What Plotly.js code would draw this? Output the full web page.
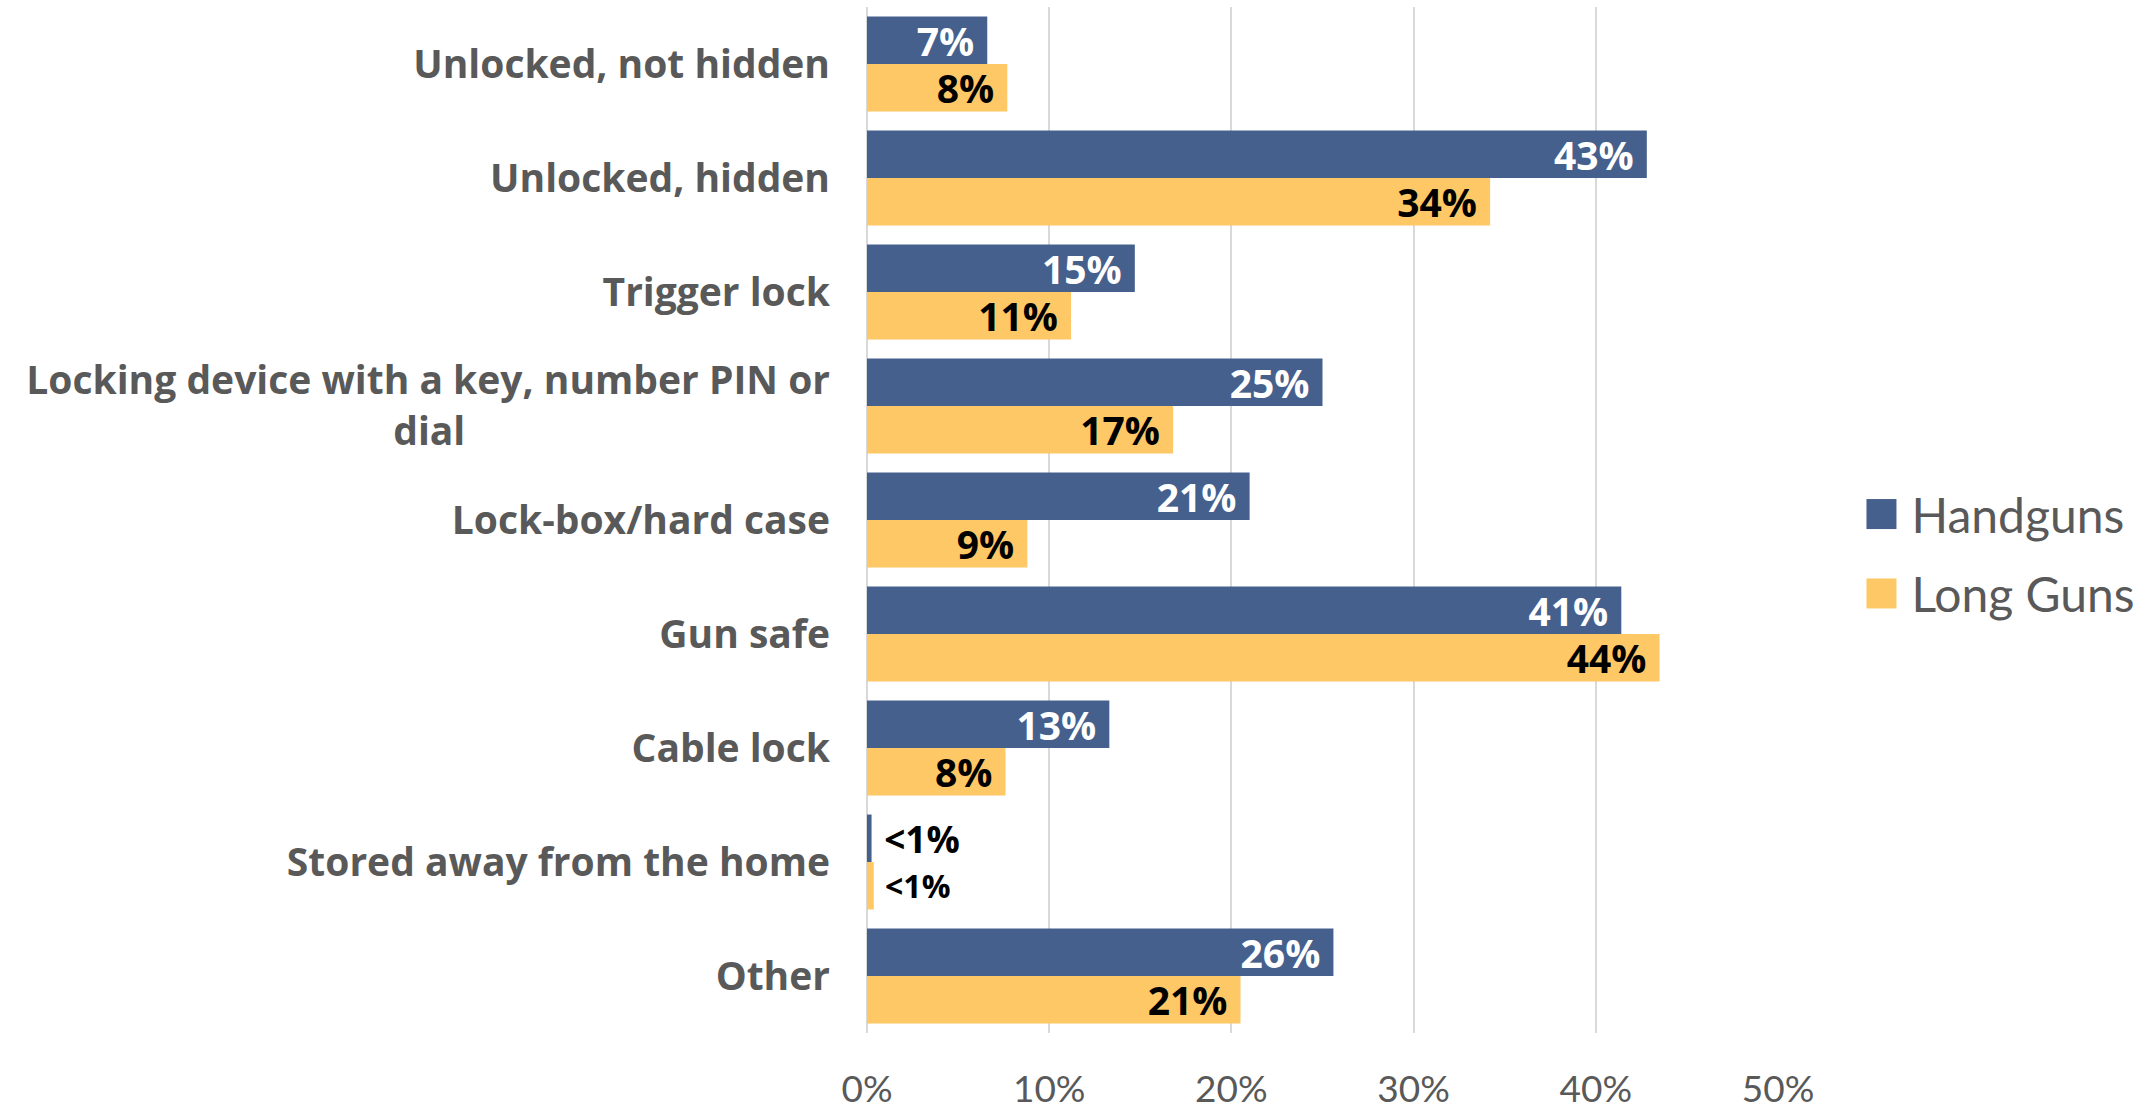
<!DOCTYPE html>
<html>
<head>
<meta charset="utf-8">
<script src="https://cdn.plot.ly/plotly-3.0.1.min.js"></script>
<style>html,body{margin:0;padding:0;background:#fff;}#chart{width:2151px;height:1110px;}</style>
</head>
<body>
<div id="chart"></div>
<script>
// Categories (top to bottom)
const categories = [
  "Unlocked, not hidden",
  "Unlocked, hidden",
  "Trigger lock",
  "Locking device with a key, number PIN or<br>dial",
  "Lock-box/hard case",
  "Gun safe",
  "Cable lock",
  "Stored away from the home",
  "Other"
];
// Series values (fractions)
const handguns = [0.066, 0.428, 0.147, 0.250, 0.210, 0.414, 0.133, 0.0025, 0.256];
const longGuns = [0.077, 0.342, 0.112, 0.168, 0.088, 0.435, 0.076, 0.0037, 0.205];
// Data labels
const handgunLabels = ["7%", "43%", "15%", "25%", "21%", "41%", "13%", "<1%", "26%"];
const longGunLabels = ["8%", "34%", "11%", "17%", "9%", "44%", "8%", "<1%", "21%"];
// Tick labels
const xTickVals = [0, 0.1, 0.2, 0.3, 0.4, 0.5];
const xTickText = ["0%", "10%", "20%", "30%", "40%", "50%"];

const BLUE = "#46608d";
const GOLD = "#fdc865";
const GREY = "#595959";
const NB = "\u00a0";

// centre the second line of the wrapped label (plotly right-aligns lines)
const catText = categories.map(c => c.indexOf("<br>") >= 0 ? c + NB.repeat(36) : c);

function isTiny(l){ return l.indexOf("<") === 0; }
function buildText(labels){ return labels.map(l => isTiny(l) ? NB + l : l + NB); }
function buildPos(labels){ return labels.map(l => isTiny(l) ? "outside" : "inside"); }

const labelFont = {family: "Open Sans", weight: 700};

const traces = [
  {
    type: "bar", orientation: "h", name: "Handguns",
    y: categories, x: handguns,
    marker: {color: BLUE},
    text: buildText(handgunLabels),
    textposition: buildPos(handgunLabels),
    insidetextanchor: "end",
    constraintext: "none",
    cliponaxis: false,
    insidetextfont: Object.assign({size: 39, color: "#ffffff"}, labelFont),
    outsidetextfont: Object.assign({size: 37, color: "#000000"}, labelFont),
    hoverinfo: "x+y",
    legendgroup: "a"
  },
  {
    type: "bar", orientation: "h", name: "Long Guns",
    y: categories, x: longGuns,
    marker: {color: GOLD},
    text: buildText(longGunLabels),
    textposition: buildPos(longGunLabels),
    insidetextanchor: "end",
    constraintext: "none",
    cliponaxis: false,
    insidetextfont: Object.assign({size: 39, color: "#000000"}, labelFont),
    outsidetextfont: Object.assign({size: 32, color: "#000000"}, labelFont),
    hoverinfo: "x+y",
    legendgroup: "b"
  }
];

const layout = {
  width: 2151, height: 1110,
  margin: {l: 867, r: 373, t: 7, b: 77, pad: 0},
  paper_bgcolor: "#ffffff", plot_bgcolor: "#ffffff",
  barmode: "group",
  bargap: 0.167,
  bargroupgap: 0,
  showlegend: true,
  legend: {
    x: 1.1026, xanchor: "left", y: 0.467, yanchor: "middle",
    font: {family: "Lato", size: 48, color: GREY},
    traceorder: "grouped", tracegroupgap: 14,
    bgcolor: "rgba(0,0,0,0)", borderwidth: 0
  },
  xaxis: {
    range: [0, 0.5],
    tickvals: xTickVals, ticktext: xTickText,
    showgrid: true, gridcolor: "#d9d9d9", gridwidth: 2,
    zeroline: true, zerolinecolor: "#d9d9d9", zerolinewidth: 2,
    showline: false, ticks: "",
    ticklabelstandoff: 31,
    tickfont: {family: "Lato", size: 37, color: GREY},
    fixedrange: true
  },
  yaxis: {
    type: "category",
    categoryorder: "array", categoryarray: categories,
    autorange: "reversed",
    tickvals: categories, ticktext: catText,
    showgrid: false, zeroline: false, showline: false, ticks: "",
    ticklabelstandoff: 36,
    tickfont: {family: "Open Sans", weight: 700, size: 39, color: GREY},
    fixedrange: true
  }
};

Plotly.newPlot("chart", traces, layout, {displayModeBar: false, staticPlot: true}).then(function(){
  document.querySelectorAll(".legend .scrollbox").forEach(function(s){ s.removeAttribute("clip-path"); });
  document.querySelectorAll(".legend").forEach(function(s){ s.style.overflow = "visible"; });
  document.querySelectorAll(".legend .legendpoints path").forEach(function(p){
    p.setAttribute("transform", "translate(10,0) scale(2.5)");
  });
});
</script>
</body>
</html>
